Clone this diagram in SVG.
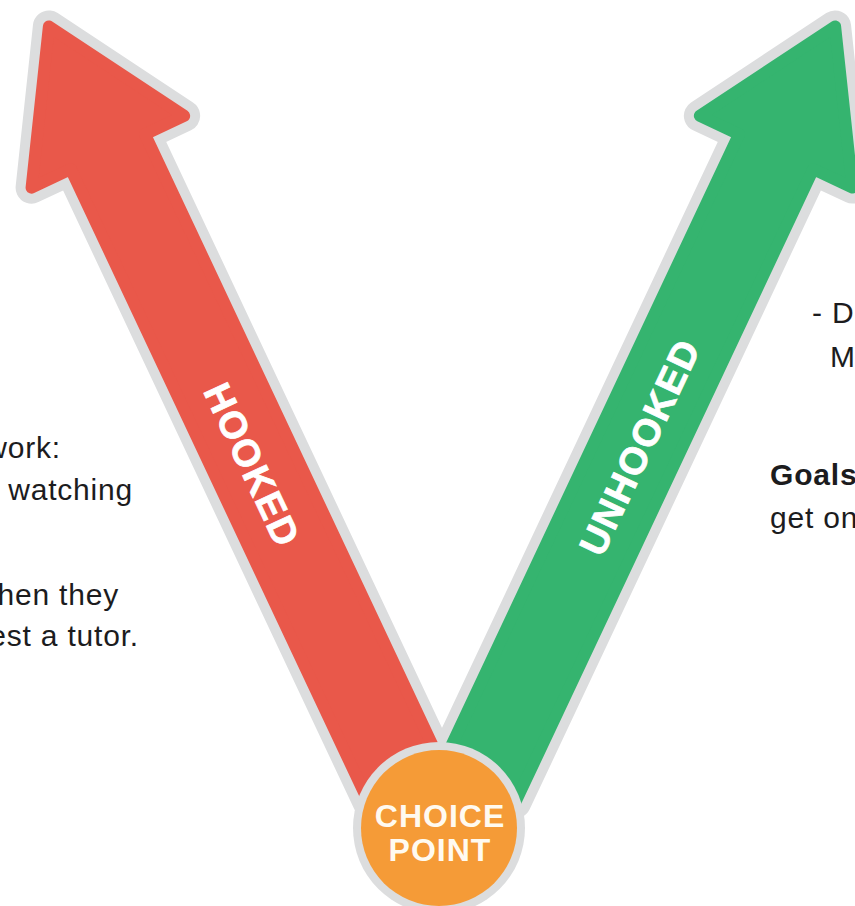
<svg xmlns="http://www.w3.org/2000/svg" xmlns:xlink="http://www.w3.org/1999/xlink" width="855" height="906" viewBox="0 0 855 906">
  <style>
    .outline { fill: #dcddde; stroke: #dcddde; stroke-width: 32; stroke-linejoin: round; }
    .red { fill: #e9584a; stroke: #e9584a; stroke-width: 12; stroke-linejoin: round; }
    .green { fill: #35b46f; stroke: #35b46f; stroke-width: 12; stroke-linejoin: round; }
    .label { font-family: "Liberation Sans", Arial, sans-serif; font-weight: bold; fill: #ffffff; font-size: 38px; letter-spacing: 1.5px; text-anchor: middle; stroke: #ffffff; stroke-width: 0.8px; }
    .body { font-family: "Liberation Sans", Arial, Helvetica, sans-serif; font-size: 30px; fill: #1c1c1e; letter-spacing: 0.8px; }
    .cp { font-family: "Liberation Sans", Arial, sans-serif; font-weight: bold; fill: #fffaf0; font-size: 32px; text-anchor: middle; letter-spacing: 1px; }
  </style>
  <defs>
    <path id="arrowShape" d="M0,11.5 L84.3,150 L41,150 L41,850 L-41,850 L-41,150 L-84.3,150 Z"/>
  </defs>
  <rect width="855" height="906" fill="#ffffff"/>

  <g id="outlines">
    <use xlink:href="#arrowShape" class="outline" transform="translate(44,16) rotate(-25.2)"/>
    <use xlink:href="#arrowShape" class="outline" transform="translate(840,16) rotate(25.2)"/>
  </g>

  <g id="arrow-hooked">
    <use xlink:href="#arrowShape" class="red" transform="translate(44,16) rotate(-25.2)"/>
    <text class="label" transform="translate(252,465) rotate(64.8)" dy="13">HOOKED</text>
  </g>

  <g id="arrow-unhooked">
    <use xlink:href="#arrowShape" class="green" transform="translate(840,16) rotate(25.2)"/>
    <text class="label" transform="translate(640,447) rotate(-64.8)" dy="13">UNHOOKED</text>
  </g>

  <g id="choice-point">
    <circle cx="439" cy="828" r="86" fill="#dcddde"/>
    <circle cx="439" cy="828" r="78" fill="#f59b37"/>
    <text class="cp" x="440" y="827">CHOICE</text>
    <text class="cp" x="440" y="861">POINT</text>
  </g>

  <g id="left-text" class="body" text-anchor="end">
    <text x="61" y="458">work:</text>
    <text x="133" y="500">watching</text>
    <text x="119" y="605">hen they</text>
    <text x="139" y="646">est a tutor.</text>
  </g>

  <g id="right-text" class="body">
    <text x="812" y="323">- D</text>
    <text x="830" y="367">M</text>
    <text x="770" y="485" font-weight="bold">Goals</text>
    <text x="770" y="528">get on</text>
  </g>
</svg>
